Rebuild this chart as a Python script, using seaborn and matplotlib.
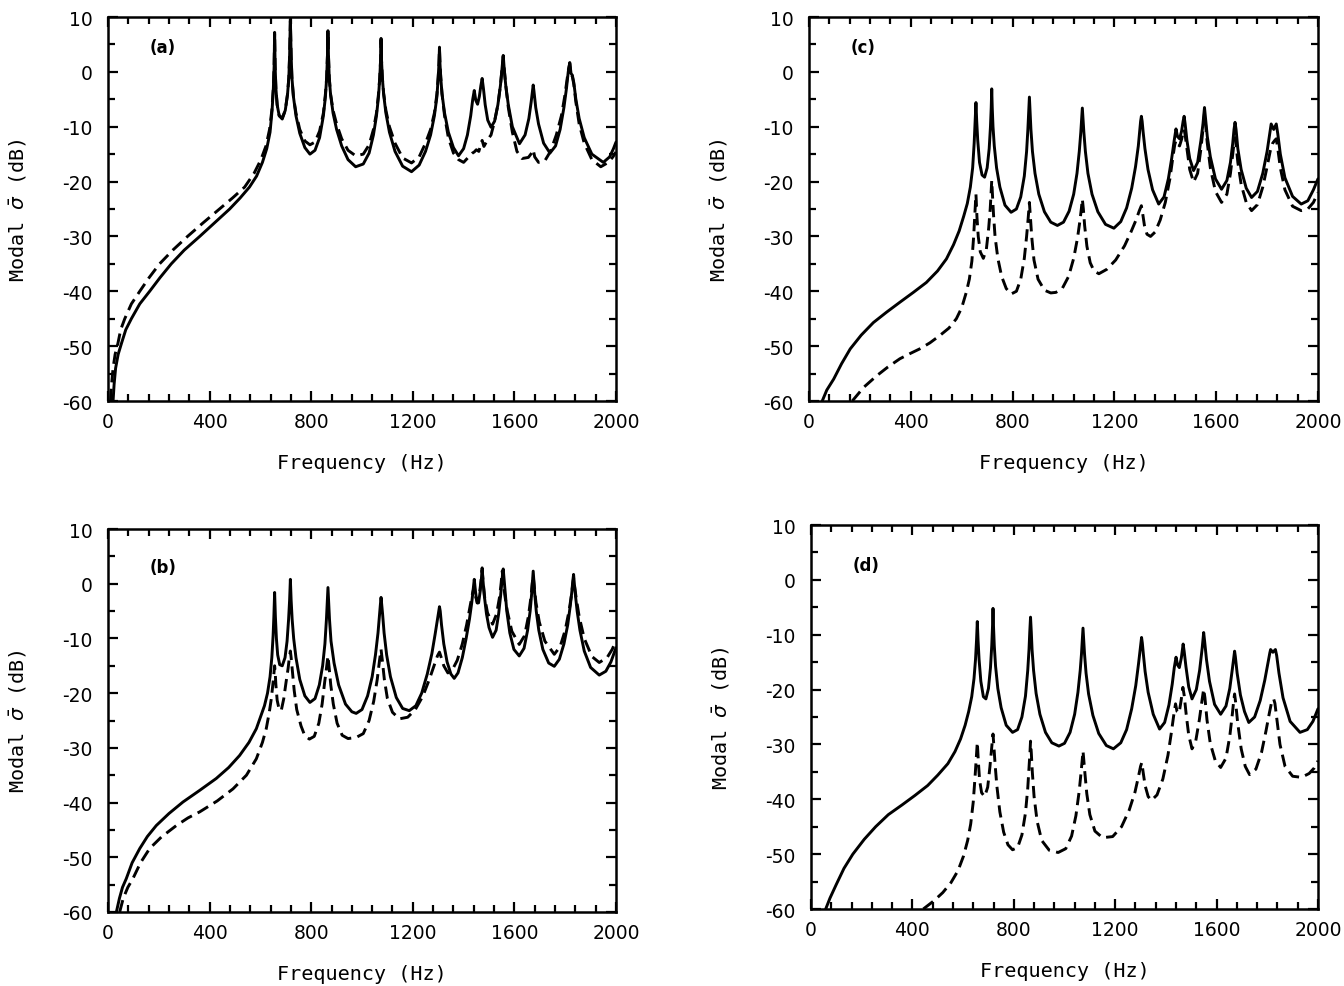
import numpy as np
import pandas as pd
import matplotlib
matplotlib.use("Agg")
import matplotlib.pyplot as plt
import seaborn as sns
from matplotlib.ticker import MultipleLocator

sns.set_style("ticks")
plt.rcParams["font.family"] = ["DejaVu Sans"]
plt.rcParams["axes.unicode_minus"] = False
plt.rcParams["mathtext.fontset"] = "dejavusans"
for k in ["text.color", "axes.labelcolor", "xtick.color", "ytick.color", "axes.edgecolor"]:
    plt.rcParams[k] = "black"

# ---------------- data: (frequency Hz, modal sigma dB) ----------------
A_SOLID = [(20,-60),(24,-57),(30,-54),(40,-51.5),(53,-49.5),(70,-47),(92,-45),(125,-42.3),(164,-40),(205,-37.5),(249,-35),(300,-32.5),(361,-30),(420,-27.5),(479,-25),(520,-23),(557,-21),(585,-19),(608,-16.5),(625,-14),(638,-11),(646,-7),(651,-3),(654,1),(656,7.2),(658,1),(661,-3),(666,-6),(674,-8),(686,-8.6),(698,-7),(707,-4),(712,-1),(715,3),(718,9.6),(721,3),(724,-1),(730,-4.5),(740,-8),(755,-11.2),(775,-13.8),(795,-15),(815,-14.3),(833,-12),(848,-8),(856,-4.5),(861,-1),(864,3),(866,7.5),(868,3),(871,-1),(876,-4),(886,-7.5),(900,-10.5),(920,-13.5),(945,-16),(975,-17.3),(1005,-16.8),(1028,-14.8),(1045,-11.5),(1057,-8),(1065,-4.5),(1070,-1),(1073,2),(1075,6.1),(1077,2),(1080,-1),(1085,-4),(1094,-7.5),(1108,-11),(1130,-14.5),(1160,-17.2),(1195,-18.2),(1225,-17),(1250,-14.5),(1270,-11.5),(1285,-8),(1295,-4.5),(1300,-1),(1303,1.5),(1305,4.5),(1307,1.5),(1310,-1),(1315,-4),(1325,-7.5),(1340,-11),(1360,-13.8),(1380,-15.3),(1400,-14),(1415,-11.5),(1428,-8),(1436,-5),(1442,-3.4),(1448,-5.2),(1455,-5.9),(1462,-4.5),(1468,-2.5),(1473,-1.2),(1478,-3),(1485,-6),(1495,-8.8),(1508,-10.1),(1522,-9),(1535,-6),(1545,-2.5),(1551,0.5),(1556,3),(1560,0.5),(1566,-2.5),(1576,-6),(1592,-10),(1620,-13.1),(1642,-11.5),(1657,-8.5),(1666,-5.5),(1671,-3.5),(1674,-2.4),(1677,-3.5),(1684,-6.5),(1695,-9.5),(1715,-13),(1740,-14.8),(1762,-13.5),(1780,-10.5),(1795,-6.5),(1805,-3),(1812,0),(1818,1.7),(1823,-0.3),(1828,-0.6),(1834,-2),(1842,-5),(1855,-8.5),(1875,-12),(1905,-15),(1950,-16.5),(1975,-15.5),(1990,-14),(2000,-12.8)]
A_DASHED = [(10,-60),(14,-57),(20,-54),(28,-51.5),(39,-49.5),(50,-47),(66,-45),(92,-42.3),(125,-40),(162,-37.5),(203,-35),(255,-32.5),(313,-30),(375,-27.5),(439,-25),(490,-23),(538,-21),(575,-18.5),(602,-16),(622,-13.5),(636,-10.5),(645,-7),(651,-3),(654,1),(656,7),(658,1),(661,-3),(666,-6),(674,-8),(686,-8.4),(698,-7),(707,-4),(712,-1),(715,3),(718,9.3),(721,3),(724,-1),(730,-4.5),(740,-7.5),(755,-10.5),(775,-12.6),(795,-13.3),(815,-12.8),(833,-10.8),(848,-7.5),(856,-4),(861,-1),(864,3),(866,7.3),(868,3),(871,-1),(876,-4),(886,-7),(900,-9.5),(920,-12.2),(945,-14.3),(975,-15.3),(1005,-15),(1028,-13.3),(1045,-10.5),(1057,-7.5),(1065,-4),(1070,-1),(1073,2),(1075,5.8),(1077,2),(1080,-1),(1085,-3.8),(1094,-7),(1108,-10),(1130,-13),(1160,-15.7),(1195,-16.6),(1225,-15.5),(1250,-13),(1270,-10.5),(1285,-7.5),(1295,-4),(1300,-1),(1303,1.5),(1305,4.2),(1307,1.5),(1310,-1),(1315,-4),(1325,-8),(1340,-12),(1360,-14.8),(1380,-16),(1400,-16.5),(1420,-15.5),(1435,-14.8),(1442,-14.6),(1450,-14.2),(1460,-14.5),(1468,-13.2),(1473,-12.5),(1480,-13.6),(1493,-12.5),(1508,-11.5),(1522,-9),(1535,-6),(1545,-2.5),(1551,0.5),(1556,2.8),(1560,0.5),(1566,-2.5),(1576,-6.5),(1592,-11),(1610,-14.5),(1630,-15.8),(1655,-15.6),(1668,-14.8),(1674,-14.2),(1680,-15.5),(1695,-16.5),(1720,-16.2),(1742,-14.5),(1765,-11.5),(1785,-8),(1798,-4.5),(1807,-1.5),(1813,0.5),(1818,1.5),(1823,-0.5),(1828,-0.8),(1834,-2.3),(1842,-5.5),(1855,-9.5),(1875,-13),(1905,-16),(1940,-17.3),(1970,-16.5),(1988,-15.5),(2000,-14.6)]

B_SOLID = [(33,-60),(45,-57.5),(57,-55.5),(72,-53.9),(95,-51),(125,-48.4),(155,-46.2),(190,-44.2),(240,-42),(295,-39.9),(360,-37.8),(426,-35.6),(475,-33.6),(518,-31.4),(555,-29),(584,-26.5),(603,-24),(616,-22.3),(628,-20),(638,-17),(645,-13.5),(650,-9.5),(653,-6),(656,-1.6),(659,-6),(663,-10),(668,-13),(676,-14.8),(686,-15),(697,-13.5),(705,-10.5),(711,-6.5),(715,-3),(718,0.8),(721,-3),(725,-6.5),(731,-10),(740,-13.5),(755,-17.5),(775,-20.5),(795,-21.7),(815,-21),(832,-18.5),(845,-15),(854,-11),(860,-6.5),(863,-3.5),(866,-0.7),(869,-3.5),(872,-6.5),(878,-10.5),(890,-14.5),(908,-18.5),(935,-22),(960,-23.4),(977,-23.7),(1000,-23),(1022,-20.5),(1040,-17),(1053,-13),(1063,-9),(1069,-5.5),(1072,-4),(1075,-2.5),(1078,-4),(1081,-5.5),(1087,-9),(1097,-13),(1112,-17),(1135,-20.8),(1160,-22.8),(1186,-23.2),(1212,-22.3),(1235,-20),(1257,-16.5),(1275,-12.8),(1288,-9.2),(1297,-6.5),(1302,-5),(1305,-4.2),(1308,-5),(1313,-7.5),(1322,-11),(1335,-14.3),(1350,-16.5),(1363,-17.3),(1378,-16.3),(1395,-13.5),(1410,-10),(1423,-6.5),(1432,-3.5),(1438,-1),(1442,0.8),(1447,-1.5),(1453,-3.5),(1459,-3.5),(1465,-1.5),(1470,0.8),(1473,2.9),(1476,0.8),(1481,-2),(1490,-5.5),(1500,-8),(1514,-9.8),(1528,-8.5),(1538,-5.5),(1545,-2.5),(1550,0),(1553,1.5),(1556,2.7),(1559,1),(1563,-1.5),(1570,-5),(1582,-9),(1598,-12),(1619,-13.2),(1638,-11.8),(1652,-8.5),(1662,-5),(1668,-1.8),(1671,0.3),(1674,2.3),(1677,0.3),(1680,-1.8),(1686,-5),(1696,-8.5),(1712,-12),(1735,-14.5),(1757,-15.1),(1777,-13.8),(1795,-11),(1810,-7.5),(1820,-4),(1826,-1.5),(1830,0.5),(1833,1.7),(1836,0),(1840,-2),(1847,-5),(1858,-8.5),(1875,-12.3),(1900,-15.3),(1934,-16.7),(1960,-16),(1980,-14.3),(2000,-11.7)]
B_DASHED = [(46,-60),(60,-57.5),(78,-55.5),(98,-53.9),(128,-51),(164,-48.4),(210,-46.3),(269,-44.2),(315,-42.8),(361,-41.7),(430,-39.7),(492,-37.5),(545,-35),(584,-32),(608,-29),(623,-26.5),(635,-23.5),(643,-21),(650,-18),(654,-16),(656,-15),(658,-16),(661,-18.5),(666,-21.3),(674,-23),(682,-23.2),(692,-21),(701,-18),(709,-15.5),(714,-13.5),(718,-12.3),(721,-13.5),(726,-16),(733,-19.5),(743,-23),(760,-26),(775,-27.8),(793,-28.4),(812,-27.9),(830,-25.5),(843,-22),(853,-18),(860,-15.5),(866,-13.2),(871,-15.5),(877,-18.5),(887,-22),(902,-25.5),(922,-27.7),(945,-28.3),(977,-28.1),(1005,-27.4),(1028,-25),(1046,-21.5),(1060,-17.5),(1069,-14),(1075,-12),(1080,-14),(1088,-17.5),(1100,-21),(1120,-23.5),(1147,-24.7),(1180,-24.4),(1210,-23),(1240,-20.5),(1265,-17.5),(1285,-14.8),(1297,-13.2),(1305,-12.5),(1312,-13.5),(1322,-15),(1338,-16.3),(1355,-15.8),(1375,-14),(1395,-11),(1412,-7.5),(1426,-4),(1435,-1.8),(1442,-0.5),(1448,-2.5),(1455,-3.5),(1462,-2),(1468,0.3),(1473,2.5),(1477,0.3),(1483,-2.5),(1494,-5.3),(1514,-7.4),(1530,-5.5),(1542,-2.3),(1548,0.2),(1552,2.3),(1556,0.5),(1562,-2),(1572,-5),(1590,-8.7),(1619,-11.1),(1640,-9.5),(1655,-6),(1665,-2.5),(1670,0),(1674,1.5),(1678,-0.5),(1685,-3.5),(1698,-7),(1720,-10.5),(1757,-12.9),(1780,-11.5),(1800,-8.5),(1815,-5),(1825,-2),(1830,0),(1833,1),(1837,-0.5),(1843,-2.5),(1855,-6),(1875,-10),(1905,-13.3),(1934,-14.4),(1965,-13.5),(1985,-12),(2000,-10.4)]

C_SOLID = [(52,-60),(70,-58),(97,-56),(128,-53.2),(162,-50.5),(205,-48),(253,-45.7),(305,-43.8),(357,-42),(410,-40.2),(461,-38.4),(505,-36.3),(540,-34.1),(568,-31.5),(590,-29),(608,-26.3),(622,-24),(634,-21),(643,-17.5),(649,-13),(653,-9),(656,-5.6),(659,-9),(663,-12.5),(670,-16.5),(680,-18.8),(690,-19.2),(700,-17.5),(708,-14),(713,-10),(716,-6.5),(718,-3.1),(720,-6.5),(723,-10),(728,-13.5),(737,-17.5),(750,-21),(770,-24.3),(794,-25.6),(815,-25),(832,-22.8),(846,-19),(855,-14.5),(860,-10.5),(863,-7.5),(866,-4.6),(869,-7.5),(872,-10.5),(878,-14.5),(888,-18.5),(903,-22.3),(925,-25.5),(950,-27.4),(976,-28),(1000,-27.4),(1022,-25.4),(1040,-22.3),(1053,-18.5),(1062,-14.5),(1068,-11),(1071,-8.7),(1074,-6.6),(1077,-8.7),(1080,-11),(1086,-14.5),(1096,-18.5),(1112,-22.3),(1135,-25.5),(1165,-27.8),(1198,-28.5),(1225,-27.3),(1248,-24.8),(1268,-21.2),(1283,-17.3),(1294,-13.5),(1300,-10.5),(1303,-9),(1306,-8.1),(1309,-9),(1313,-11),(1320,-14),(1332,-17.8),(1350,-21.5),(1374,-24.1),(1395,-22.8),(1412,-19.5),(1425,-15.8),(1435,-12.5),(1442,-10.4),(1448,-11.8),(1456,-12.2),(1464,-10.8),(1470,-9),(1474,-8.1),(1478,-9.5),(1485,-12.5),(1496,-15.8),(1511,-18),(1527,-16.5),(1540,-12.5),(1548,-9.5),(1554,-6.5),(1558,-8.5),(1565,-11.8),(1577,-15.5),(1597,-19.5),(1621,-21.4),(1642,-19.8),(1656,-16.5),(1665,-13),(1670,-10.5),(1674,-9.2),(1678,-10.5),(1685,-14),(1698,-17.8),(1718,-21.2),(1739,-22.9),(1762,-21.8),(1783,-18.5),(1800,-14.5),(1810,-11.3),(1816,-9.5),(1826,-10.5),(1836,-9.5),(1842,-11.3),(1852,-15),(1870,-19.3),(1900,-22.7),(1934,-24.1),(1960,-23.5),(1982,-21.5),(2000,-19.5)]
C_DASHED = [(170,-60),(215,-57.5),(266,-55.4),(310,-53.8),(357,-52.3),(395,-51.4),(435,-50.5),(475,-49.4),(513,-48.1),(550,-46.7),(579,-45),(600,-43),(618,-40.2),(630,-37.8),(640,-34.5),(647,-30),(651,-26.5),(656,-22.3),(660,-26.5),(665,-30),(673,-32.8),(685,-34),(697,-32.3),(706,-28.5),(712,-25),(715,-22.5),(718,-19.8),(721,-22.5),(725,-26),(731,-30),(742,-34),(757,-37.3),(775,-39.5),(794,-40.5),(815,-40),(832,-37.8),(846,-34),(855,-30),(861,-26.8),(866,-23.8),(870,-26.5),(875,-30),(884,-34.3),(900,-37.8),(925,-39.8),(950,-40.3),(970,-40.2),(995,-39.5),(1020,-37.3),(1040,-34),(1055,-30.3),(1065,-27),(1070,-25),(1074,-23.2),(1078,-25),(1083,-28),(1092,-31.8),(1105,-34.8),(1120,-36.3),(1139,-36.8),(1170,-36),(1205,-34.3),(1240,-31.7),(1265,-29.2),(1285,-27),(1298,-25.3),(1306,-24.4),(1311,-25.8),(1318,-28),(1328,-29.6),(1342,-30),(1360,-29.2),(1380,-27),(1400,-23.8),(1418,-19.5),(1430,-15.5),(1437,-13.3),(1442,-12.5),(1448,-13.2),(1456,-13.5),(1464,-12.3),(1470,-11),(1474,-10.5),(1478,-11.5),(1485,-14),(1496,-17.8),(1511,-20.1),(1527,-18.5),(1540,-14),(1548,-10.5),(1554,-7.5),(1558,-9.5),(1565,-13),(1577,-17.5),(1597,-21.8),(1621,-23.8),(1642,-22.3),(1656,-18.5),(1665,-15),(1670,-13),(1674,-12),(1678,-13.3),(1685,-16.5),(1698,-20.5),(1718,-23.8),(1739,-25.3),(1762,-24.2),(1783,-21),(1800,-17.3),(1812,-14.5),(1822,-13),(1830,-12.5),(1836,-12.2),(1842,-14),(1852,-17.5),(1870,-21.5),(1900,-24.5),(1934,-25.3),(1960,-25),(1982,-23.8),(2000,-22)]

D_SOLID = [(58,-60),(75,-58),(100,-55.5),(130,-52.6),(165,-50),(210,-47.3),(255,-45),(305,-42.8),(360,-41),(410,-39.3),(460,-37.5),(500,-35.6),(540,-33.5),(568,-31.3),(590,-29),(608,-26.5),(622,-24),(634,-21.3),(643,-18),(649,-14.5),(653,-11),(656,-7.6),(659,-11),(663,-14.5),(670,-18.5),(680,-21.3),(690,-21.7),(700,-19.8),(708,-16),(713,-12),(716,-8.5),(718,-5.2),(720,-8.5),(723,-12),(728,-15.7),(737,-19.8),(750,-23.3),(770,-26.5),(795,-27.8),(815,-27.3),(832,-25),(846,-21.2),(855,-16.5),(860,-12.7),(863,-9.5),(866,-6.8),(869,-9.5),(872,-12.7),(878,-16.5),(888,-20.7),(903,-24.5),(925,-27.8),(950,-29.7),(978,-30.3),(1000,-29.8),(1022,-27.8),(1040,-24.5),(1053,-20.5),(1062,-16.5),(1067,-13.5),(1070,-11),(1073,-8.8),(1076,-11),(1079,-13.5),(1085,-17),(1095,-20.8),(1112,-24.7),(1135,-28),(1165,-30.2),(1193,-30.8),(1222,-29.7),(1245,-27.3),(1265,-23.5),(1281,-19.3),(1292,-15.3),(1299,-12.5),(1302,-11.2),(1304,-10.5),(1307,-11.5),(1311,-13.5),(1318,-16.7),(1330,-20.5),(1350,-24.5),(1375,-27.2),(1395,-26),(1412,-22.8),(1425,-19),(1433,-16),(1440,-14.1),(1446,-15.5),(1453,-16),(1461,-14.2),(1465,-12.8),(1468,-11.7),(1472,-13),(1479,-15.8),(1490,-19.5),(1503,-21.7),(1520,-20),(1533,-16.5),(1543,-12.5),(1549,-9.6),(1553,-11.3),(1560,-14.5),(1572,-18.5),(1592,-22.7),(1616,-24.5),(1637,-23),(1652,-19.8),(1662,-16.3),(1668,-14),(1671,-13),(1674,-14),(1681,-17),(1694,-21),(1710,-24),(1727,-26),(1750,-25),(1772,-22),(1790,-18.3),(1803,-15),(1810,-13.3),(1813,-12.7),(1822,-13.2),(1832,-12.7),(1837,-13.8),(1846,-17),(1862,-21.5),(1890,-25.8),(1929,-27.8),(1958,-27.3),(1980,-25.8),(2000,-23.5)]
D_DASHED = [(443,-60),(485,-58.5),(520,-57),(552,-55.2),(580,-53),(602,-50.3),(618,-47.5),(630,-44.5),(640,-40.5),(647,-36),(652,-32.5),(656,-29.6),(660,-33),(665,-36.5),(673,-38.8),(685,-39.5),(697,-37.8),(706,-34),(712,-31),(715,-29.5),(718,-28.1),(721,-30),(726,-33.5),(733,-37.5),(745,-42.3),(760,-46),(777,-48.3),(795,-49.2),(815,-48.8),(832,-46.5),(846,-42.5),(855,-38),(861,-33.5),(864,-31.3),(866,-29.4),(869,-31.5),(873,-35),(880,-39.5),(892,-44),(910,-47.5),(940,-49.3),(975,-49.7),(1005,-49),(1028,-46.7),(1045,-43),(1058,-38.5),(1066,-34.8),(1070,-32.8),(1073,-31.2),(1076,-32.8),(1080,-35),(1088,-39),(1100,-42.8),(1120,-45.8),(1150,-47),(1190,-46.8),(1225,-45),(1255,-42),(1278,-38.7),(1292,-35.8),(1300,-34),(1305,-33.3),(1310,-35),(1318,-37.5),(1330,-39.5),(1343,-40.2),(1365,-39.2),(1388,-36.3),(1408,-32),(1422,-27.7),(1432,-24.3),(1438,-22.6),(1444,-24),(1452,-24.3),(1460,-22),(1467,-19.6),(1472,-21),(1480,-24.5),(1490,-28.3),(1503,-30.8),(1518,-29.3),(1532,-25.5),(1543,-21.8),(1549,-19.9),(1554,-21.5),(1562,-25.5),(1575,-29.8),(1595,-33),(1616,-34.2),(1637,-32.5),(1652,-28.5),(1662,-24.5),(1668,-21.8),(1671,-20.8),(1675,-22.3),(1683,-26),(1697,-30.8),(1713,-34),(1730,-35.5),(1755,-34.5),(1777,-31.5),(1795,-27.5),(1808,-24.3),(1817,-22.3),(1825,-21.7),(1830,-22.5),(1838,-25.5),(1850,-30),(1870,-34),(1900,-35.8),(1935,-36),(1965,-35.3),(1985,-34.3),(2000,-33)]

X_TICKS = [0, 400, 800, 1200, 1600, 2000]
Y_TICKS = [-60, -50, -40, -30, -20, -10, 0, 10]
PANEL_LABELS = ["(a)", "(b)", "(c)", "(d)"]
X_LABEL = "Frequency (Hz)"
Y_LABEL = r"Modal $\bar{\sigma}$ (dB)"

# ---------------- layout ----------------
W, H = 1344, 987
# (left, top, right, bottom) in pixels
BOXES = [(108, 18, 616, 402), (108, 530, 616, 913), (809, 18, 1318, 402), (811, 526, 1318, 910)]
LETTER_POS = [(150, 48), (150, 568), (851, 48), (853, 566)]
SERIES = [(A_SOLID, A_DASHED), (B_SOLID, B_DASHED), (C_SOLID, C_DASHED), (D_SOLID, D_DASHED)]

fig = plt.figure(figsize=(W / 100, H / 100), dpi=100)
for (l, t, r, b), (lx, ly), lab, (solid, dashed) in zip(BOXES, LETTER_POS, PANEL_LABELS, SERIES):
    ax = fig.add_axes([l / W, 1 - b / H, (r - l) / W, (b - t) / H])
    ds = pd.DataFrame(solid, columns=["f", "db"]).assign(kind="solid")
    dd = pd.DataFrame(dashed, columns=["f", "db"]).assign(kind="dashed")
    df = pd.concat([ds, dd], ignore_index=True)
    sns.lineplot(data=df, x="f", y="db", style="kind",
                 dashes={"solid": "", "dashed": (4.2, 2.2)},
                 color="black", linewidth=2.1, estimator=None, sort=False,
                 legend=False, ax=ax)
    ax.set_xlim(0, 2000)
    ax.set_ylim(-60, 10)
    ax.set_xticks(X_TICKS)
    ax.set_yticks(Y_TICKS)
    ax.xaxis.set_minor_locator(MultipleLocator(80))
    ax.yaxis.set_minor_locator(MultipleLocator(5))
    ax.tick_params(which="both", direction="in", top=True, right=True,
                   width=1.6, color="black")
    ax.tick_params(which="major", length=7)
    ax.tick_params(which="minor", length=5)
    ax.tick_params(axis="y", which="major", pad=11, labelsize=13.5)
    ax.tick_params(axis="x", which="major", pad=8, labelsize=13.5)
    for s in ax.spines.values():
        s.set_linewidth(1.8)
        s.set_color("black")
    ax.set_xlabel(X_LABEL, fontsize=14.5, family="DejaVu Sans Mono")
    ax.set_ylabel(Y_LABEL, fontsize=14.5, family="DejaVu Sans Mono")
    ax.xaxis.set_label_coords(0.5, -0.135)
    ax.yaxis.set_label_coords(-0.155, 0.5)
    ax.text((lx - l) / (r - l), 1 - (ly - t) / (b - t), lab, transform=ax.transAxes,
            fontsize=12, fontweight="bold", ha="left", va="center")

fig.savefig("out.png", dpi=100)
